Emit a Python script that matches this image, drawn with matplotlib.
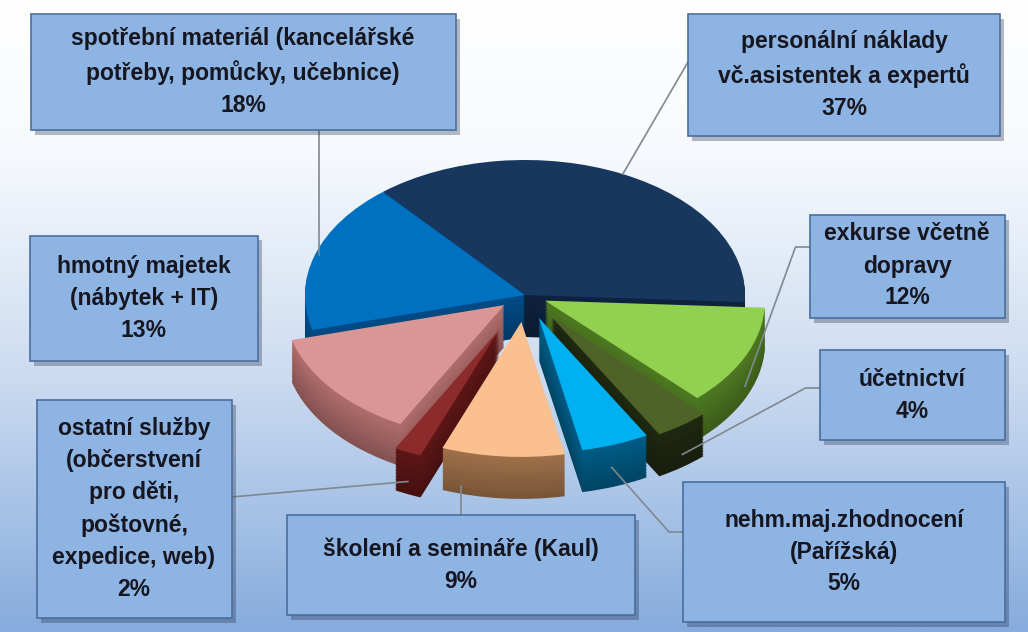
import numpy as np
import matplotlib
matplotlib.use("Agg")
import matplotlib.pyplot as plt
import matplotlib.colors as mcolors

# values in percent, counter-clockwise from the right
labels = [
	"personální náklady\nvč.asistentek a expertů",
	"spotřební materiál (kancelářské\npotřeby, pomůcky, učebnice)",
	"hmotný majetek\n(nábytek + IT)",
	"ostatní služby\n(občerstvení\npro děti,\npoštovné,\nexpedice, web)",
	"školení a semináře (Kaul)",
	"nehm.maj.zhodnocení\n(Pařížská)",
	"účetnictví",
	"exkurse včetně\ndopravy",
]
values = [37, 18, 13, 2, 9, 5, 4, 12]
top_colors = ["#17375E", "#0070C0", "#D99694", "#8C2B2B", "#FAC090", "#00B0F0", "#4F6228", "#92D050"]
side_colors = ["#0E2340", "#004C88", "#B06E6C", "#5E1616", "#A0714A", "#005C86", "#1F2810", "#4E7A22"]
explode = [0, 0, 0.12, 0.28, 0.2, 0.18, 0.2, 0.1]

# label box centres (figure pixels from top-left)
box_xy = [(844, 75), (243, 72), (144, 298), (134, 509), (461, 565), (844, 552), (912, 395), (907, 266)]
box_size = [(312, 121), (425, 116), (228, 125), (195, 218), (348, 100), (322, 140), (185, 90), (195, 103)]

W, H = 1028, 632
cx, cy = 525, 295
rx, ry = 220, 135
depth = 42
start = -3

fig = plt.figure(figsize=(W / 100, H / 100), dpi=100)

# background gradient
bg = fig.add_axes([0, 0, 1, 1])
grad = np.linspace(0, 1, 256)[:, None]
cmap = mcolors.LinearSegmentedColormap.from_list("bg", [(0, "#FFFFFF"), (0.25, "#F6F9FD"), (0.6, "#CBDBF0"), (1, "#86ABDD")])
bg.imshow(grad, aspect="auto", cmap=cmap, extent=[0, 1, 0, 1], origin="upper")
bg.set_axis_off()

ax = fig.add_axes([0, 0, 1, 1])
ax.patch.set_alpha(0)

nlay = 28
for k in range(nlay, 0, -1):
	off = -depth / ry * k / nlay
	shade = 0.75 + 0.25 * (1 - k / nlay)
	cols = [tuple(np.clip(np.array(mcolors.to_rgb(c)) * shade, 0, 1)) for c in side_colors]
	ax.pie(values, colors=cols, explode=explode, startangle=start, counterclock=True,
		center=(0, off), radius=1, wedgeprops=dict(linewidth=0))
wedges, _ = ax.pie(values, colors=top_colors, explode=explode, startangle=start, counterclock=True,
	center=(0, 0), radius=1, wedgeprops=dict(linewidth=0))

ax.set_xlim(-cx / rx, (W - cx) / rx)
ax.set_ylim(-(H - cy) / ry, cy / ry)
ax.set_aspect("auto")
ax.set_axis_off()

# leader lines from slice to box
angles = np.cumsum([0] + values)
tot = sum(values)
anchor_r = [1.0, 0.98, 0, 1.0, 1.0, 0.95, 1.0, 1.0]
for i, lab in enumerate(labels):
	if anchor_r[i] == 0:
		continue
	mid = np.deg2rad(start + 360 * (angles[i] + angles[i + 1]) / 2 / tot)
	r = anchor_r[i] + explode[i]
	px = cx + rx * r * np.cos(mid)
	py = cy - ry * r * np.sin(mid)
	if i in (3, 4, 5, 6, 7):
		py += depth * 0.7
	bx, by = box_xy[i]
	bw, bh = box_size[i]
	if i == 0:
		xs, ys = [px, bx - bw / 2], [py, by - 13]
	elif i == 1:
		xs, ys = [px, px], [py, by + bh / 2]
	elif i == 3:
		xs, ys = [px, bx + bw / 2], [py, by - 12]
	elif i == 4:
		xs, ys = [bx, bx], [py, by - bh / 2]
	else:
		ey = by - 19 if i == 7 else by - 7 if i == 6 else by - 20
		xs, ys = [px, bx - bw / 2 - 14, bx - bw / 2], [py, ey, ey]
	ax.plot([(x - cx) / rx for x in xs], [(cy - y) / ry for y in ys], color="#808890", lw=1.2, zorder=1)

# label boxes
for i, lab in enumerate(labels):
	bx, by = box_xy[i]
	bw, bh = box_size[i]
	shadow = plt.Rectangle(((bx - bw / 2 + 4) / W, 1 - (by + bh / 2 + 5) / H), bw / W, bh / H,
		transform=fig.transFigure, facecolor="#2b3a55", alpha=0.35, edgecolor="none", zorder=3)
	fig.add_artist(shadow)
	rect = plt.Rectangle(((bx - bw / 2) / W, 1 - (by + bh / 2) / H), bw / W, bh / H,
		transform=fig.transFigure, facecolor="#8EB4E3", edgecolor="#4A6E9E", lw=1.2, zorder=4)
	fig.add_artist(rect)
	fig.text(bx / W, 1 - by / H, lab + "\n" + f"{values[i]}%", ha="center", va="center",
		fontsize=16.5, fontweight="bold", color="#161620", linespacing=1.5,
		family=["Liberation Sans", "DejaVu Sans"], zorder=5)

fig.savefig("out.png", dpi=100)
